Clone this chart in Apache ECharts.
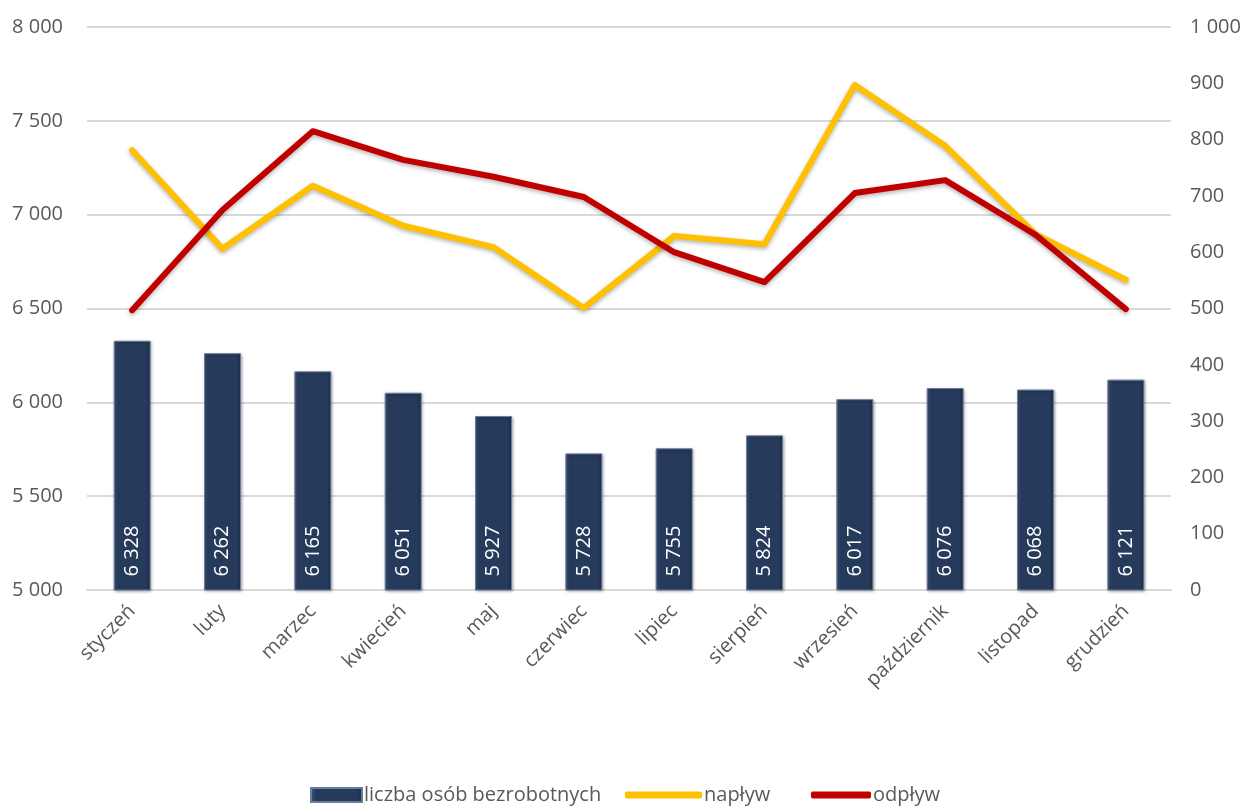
<!DOCTYPE html>
<html><head><meta charset="utf-8">
<script src="https://cdn.jsdelivr.net/npm/echarts@6/dist/echarts.min.js"></script>
<style>html,body{margin:0;padding:0;background:#fff}#c{width:1248px;height:806px}</style>
</head><body><div id="c"></div>
<script>
const categories = ['styczeń','luty','marzec','kwiecień','maj','czerwiec','lipiec','sierpień','wrzesień','październik','listopad','grudzień'];
const bezrobotni = [6328,6262,6165,6051,5927,5728,5755,5824,6017,6076,6068,6121];
const naplyw = [781,606,718,647,609,501,629,614,897,789,632,551];
const odplyw = [497,675,815,764,734,698,600,547,705,728,631,499];
const leftTicks = {min:5000, max:8000, interval:500};
const rightTicks = {min:0, max:1000, interval:100};

const fmt = v => String(v).replace(/\B(?=(\d{3})+(?!\d))/g, ' ');
const FONT = 'Open Sans';
const legText = {fontFamily:FONT,fontSize:20,color:'#595959',padding:[0,0,0,-3]};
const chart = echarts.init(document.getElementById('c'));
chart.setOption({
  animation:false,
  textStyle:{fontFamily:FONT},
  grid:{left:87,right:77,top:27,bottom:216,containLabel:false},
  legend:[{
    left:305, top:780, itemWidth:51, itemHeight:14, textStyle:legText,
    data:[{name:'liczba osób bezrobotnych',icon:'rect'}]
  },{
    left:620, top:780, itemWidth:77, itemHeight:7, textStyle:legText,
    data:[{name:'napływ',icon:'roundRect'}]
  },{
    left:806, top:780, itemWidth:60, itemHeight:7, textStyle:legText,
    data:[{name:'odpływ',icon:'roundRect'}]
  }],
  xAxis:{
    type:'category', data:categories,
    axisLine:{show:true,lineStyle:{color:'#d9d9d9',width:2}},
    axisTick:{show:false},
    axisLabel:{rotate:45,fontSize:20,color:'#595959',margin:18,interval:0,fontFamily:FONT}
  },
  yAxis:[{
    type:'value', min:leftTicks.min, max:leftTicks.max, interval:leftTicks.interval,
    axisLine:{show:false}, axisTick:{show:false},
    axisLabel:{formatter:fmt,fontSize:20,color:'#595959',margin:24,fontFamily:FONT},
    splitLine:{lineStyle:{color:'#d9d9d9',width:2}}
  },{
    type:'value', min:rightTicks.min, max:rightTicks.max, interval:rightTicks.interval,
    axisLine:{show:false}, axisTick:{show:false},
    axisLabel:{formatter:fmt,fontSize:20,color:'#595959',margin:19,fontFamily:FONT},
    splitLine:{show:false}
  }],
  series:[{
    name:'liczba osób bezrobotnych', type:'bar', yAxisIndex:0, data:bezrobotni, barWidth:37,
    itemStyle:{
      color:new echarts.graphic.LinearGradient(0,0,1,0,[
        {offset:0,color:'#41557a'},{offset:0.12,color:'#263a5c'},
        {offset:0.88,color:'#263a5c'},{offset:1,color:'#1c2c48'}]),
      borderColor:'#6b7d9c', borderWidth:1,
      shadowColor:'rgba(0,0,0,0.35)', shadowBlur:3, shadowOffsetX:1, shadowOffsetY:1
    },
    label:{show:true, position:'insideBottom', rotate:90, align:'left', verticalAlign:'middle',
      distance:14, color:'#fff', fontSize:20, fontFamily:FONT, formatter:p=>fmt(p.value)}
  },{
    name:'napływ', type:'line', yAxisIndex:1, data:naplyw, symbol:'none',
    lineStyle:{color:'#FFC000',width:6,cap:'round',join:'round',
      shadowColor:'rgba(0,0,0,0.3)',shadowBlur:4,shadowOffsetY:2},
    itemStyle:{color:'#FFC000'}
  },{
    name:'odpływ', type:'line', yAxisIndex:1, data:odplyw, symbol:'none',
    lineStyle:{color:'#C00000',width:6,cap:'round',join:'round',
      shadowColor:'rgba(0,0,0,0.3)',shadowBlur:4,shadowOffsetY:2},
    itemStyle:{color:'#C00000'}
  }]
});
</script></body></html>
